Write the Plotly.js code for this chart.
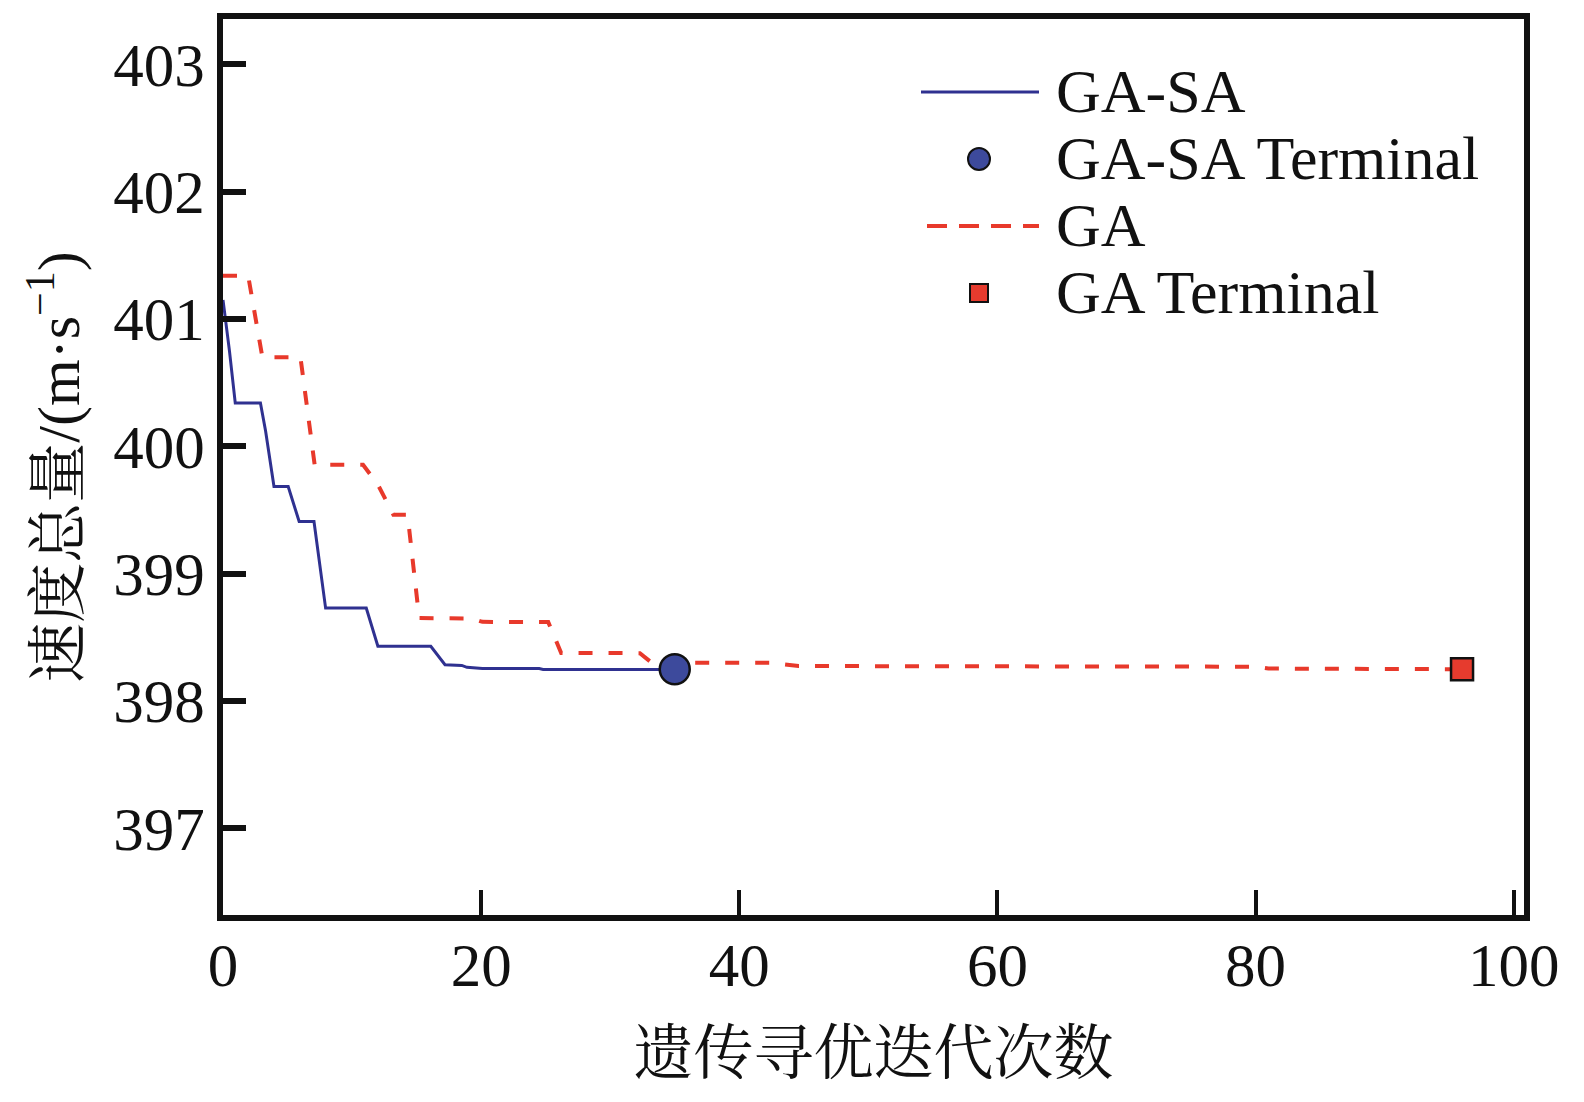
<!DOCTYPE html>
<html>
<head>
<meta charset="utf-8">
<script src="https://cdn.plot.ly/plotly-3.0.1.min.js"></script>
<style>
  html, body { margin: 0; padding: 0; background: #fff; }
  #chart { width: 1584px; height: 1102px; }
</style>
</head>
<body>
<div id="chart"></div>
<script>
// GA-SA convergence curve (iteration, total velocity)
var gasaIter = [0, 0.5, 0.95, 2.9, 3.3, 3.95, 5.05, 5.9, 7.05, 7.95, 11.1, 12.0, 16.1, 17.2, 18.5, 18.9, 20.1, 24.5, 24.8, 35];
var gasaVel = [401.15, 400.75, 400.34, 400.34, 400.12, 399.685, 399.685, 399.41, 399.41, 398.73, 398.73, 398.43, 398.43, 398.285, 398.28, 398.265, 398.255, 398.255, 398.248, 398.248];

// GA convergence curve
var gaIter = [0, 1.95, 3.05, 6.0, 7.1, 10.85, 12.0, 13.2, 14.3, 15.2, 19.3, 20.1, 25.2, 26.2, 32.3, 33.2, 42.4, 44.6, 80, 81, 96];
var gaVel = [401.34, 401.34, 400.70, 400.70, 399.856, 399.856, 399.70, 399.463, 399.463, 398.652, 398.648, 398.622, 398.62, 398.378, 398.376, 398.302, 398.30, 398.275, 398.27, 398.255, 398.25];

// terminal points
var gasaEndIter = [35];
var gasaEndVel = [398.25];
var gaEndIter = [96];
var gaEndVel = [398.25];

var xTicks = [0, 20, 40, 60, 80, 100];
var yTicks = [397, 398, 399, 400, 401, 402, 403];

var legendNames = ["GA-SA", "GA-SA Terminal", "GA", "GA Terminal"];

var fontFam = '"Liberation Serif", "Times New Roman", "Noto Serif CJK SC", "Noto Sans CJK SC", serif';

var blue = "#2f3190", blueFill = "#3d4a9c", red = "#e8392b", redFill = "#e63b2e";

var plotdata = [
  {
    x: gasaIter,
    y: gasaVel,
    type: "scatter",
    mode: "lines",
    name: legendNames[0],
    line: { color: blue, width: 3 },
  },
  {
    x: gaIter,
    y: gaVel,
    type: "scatter",
    mode: "lines",
    name: legendNames[2],
    line: { color: red, width: 4, dash: "14px,16px" },
  },
  {
    x: gasaEndIter,
    y: gasaEndVel,
    type: "scatter",
    mode: "markers",
    name: legendNames[1],
    marker: { symbol: "circle", size: 30, color: blueFill, line: { color: "#111", width: 2.5 } },
  },
  {
    x: gaEndIter,
    y: gaEndVel,
    type: "scatter",
    mode: "markers",
    name: legendNames[3],
    marker: { symbol: "square", size: 22, color: redFill, line: { color: "#111", width: 2.5 } },
  },
];

// hand-built legend (paper coords from pixel layout)
var W = 1584, H = 1102, mL = 223, mR = 60, mT = 19, mB = 187;
var pw = W - mL - mR, ph = H - mT - mB;
function px(v) { return (v - mL) / pw; }
function py(v) { return (H - mB - v) / ph; }
var rowY = [92, 159, 226, 293];
var dx = 9;

var shapes = [
  { type: "line", xref: "paper", yref: "paper", x0: px(912 + dx), x1: px(1030 + dx), y0: py(rowY[0]), y1: py(rowY[0]),
    line: { color: blue, width: 3 } },
  { type: "circle", xref: "paper", yref: "paper", x0: px(959 + dx), x1: px(981 + dx), y0: py(rowY[1] + 11), y1: py(rowY[1] - 11),
    fillcolor: blueFill, line: { color: "#111", width: 2 } },
  { type: "line", xref: "paper", yref: "paper", x0: px(918 + dx), x1: px(1030 + dx), y0: py(rowY[2]), y1: py(rowY[2]),
    line: { color: red, width: 4, dash: "20px,12px" } },
  { type: "rect", xref: "paper", yref: "paper", x0: px(961 + dx), x1: px(979 + dx), y0: py(rowY[3] + 9), y1: py(rowY[3] - 9),
    fillcolor: redFill, line: { color: "#111", width: 2 } },
];

var annotations = legendNames.map(function (name, i) {
  return {
    text: name,
    xref: "paper",
    yref: "paper",
    x: px(1045 + dx),
    y: py(rowY[i] - 1),
    xanchor: "left",
    yanchor: "middle",
    showarrow: false,
    font: { family: fontFam, size: 62, color: "#111" },
  };
});

var layout = {
  width: W,
  height: H,
  margin: { l: mL, r: mR, t: mT, b: mB },
  paper_bgcolor: "#fff",
  plot_bgcolor: "#fff",
  font: { family: fontFam, color: "#111", size: 60 },
  showlegend: false,
  shapes: shapes,
  annotations: annotations,
  xaxis: {
    range: [0, 100.8],
    tickvals: xTicks,
    ticktext: xTicks.map(String),
    ticks: "inside",
    ticklen: 25,
    tickwidth: 4,
    tickcolor: "#111",
    ticklabelstandoff: -8,
    showline: true,
    linewidth: 6,
    linecolor: "#111",
    mirror: true,
    showgrid: false,
    zeroline: false,
    tickfont: { family: fontFam, size: 61, color: "#111" },
    title: { text: "遗传寻优迭代次数", font: { family: fontFam, size: 60, color: "#111" }, standoff: 36 },
  },
  yaxis: {
    range: [396.32, 403.356],
    tickvals: yTicks,
    ticktext: yTicks.map(String),
    ticks: "inside",
    ticklen: 23,
    tickwidth: 6,
    tickcolor: "#111",
    showline: true,
    linewidth: 6,
    linecolor: "#111",
    mirror: true,
    showgrid: false,
    zeroline: false,
    tickfont: { family: fontFam, size: 61, color: "#111" },
    title: { text: "速度总量/(m·s<sup>−1</sup>)", font: { family: fontFam, size: 60, color: "#111" }, standoff: 16 },
  },
};

Plotly.newPlot("chart", plotdata, layout, { staticPlot: true });
</script>
</body>
</html>
